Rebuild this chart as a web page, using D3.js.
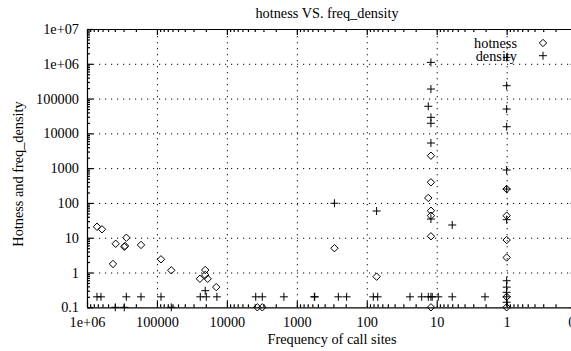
<!DOCTYPE html>
<html>
<head>
<meta charset="utf-8">
<script src="https://cdn.jsdelivr.net/npm/d3@7"></script>
<style>
  body { margin: 0; background: #fff; }
  svg { display: block; font-family: "Liberation Serif", "Times New Roman", serif; font-size: 14.3px; }
  .axis path, .axis line { stroke: #000; }
  .axis text { fill: #000; }
  .grid line { stroke: #000; stroke-dasharray: 1.2, 4.8; }
  .grid path { display: none; }
</style>
</head>
<body>
<script>
const title = 'hotness VS. freq_density'
const xTitle = 'Frequency of call sites'
const yTitle = 'Hotness and freq_density'

const xTicks = [1e6, 1e5, 1e4, 1e3, 100, 10, 1, 0.1]
const xTickLabels = ['1e+06', '100000', '10000', '1000', '100', '10', '1', '0.1']
const yTicks = [0.1, 1, 10, 100, 1000, 1e4, 1e5, 1e6, 1e7]
const yTickLabels = ['0.1', '1', '10', '100', '1000', '10000', '100000', '1e+06', '1e+07']

// [frequency, hotness]
const hotness = [
  [720000, 20.7], [611000, 17.5], [389000, 6.7], [274000, 10.0], [293000, 5.5],
  [286000, 5.8], [425000, 1.76], [169000, 6.2], [87500, 2.4], [62400, 1.16],
  [20400, 1.18], [20400, 0.85], [24300, 0.66], [18800, 0.66], [14200, 0.38],
  [3670, 0.1], [3120, 0.1], [290, 5.0], [72.3, 0.76],
  [12.1, 2280], [12.1, 392], [13.2, 139], [12.1, 59.8], [12.1, 43], [12.1, 11], [12.1, 0.1],
  [1, 251], [1, 43], [1, 8.6], [1, 2.7], [1, 0.2], [1, 0.1]
]

// [frequency, freq_density]
const density = [
  [720000, 0.2], [631000, 0.2], [274000, 0.2], [169000, 0.2], [87500, 0.2],
  [24000, 0.2], [19700, 0.2], [13900, 0.2], [20400, 0.3],
  [394000, 0.1], [293000, 0.1], [62400, 0.1],
  [3870, 0.2], [3120, 0.2], [1530, 0.2], [562, 0.2], [555, 0.2], [255, 0.2], [194, 0.2],
  [80.7, 0.2], [69.8, 0.2], [290, 98], [72.3, 58.6],
  [12.1, 1.1e6], [12.1, 188000], [13.2, 60000], [12.1, 28900], [12.1, 19500], [12.1, 5280],
  [12.1, 34.5], [6.0, 23.2],
  [24.1, 0.2], [16.4, 0.2], [13.2, 0.2], [12.1, 0.2], [11.6, 0.2], [9.5, 0.2], [6.0, 0.2],
  [1, 1.53e6], [1, 234000], [1, 50000], [1, 15500], [1, 885], [1, 251], [1, 33],
  [1, 0.58], [1, 0.38], [1, 0.27], [1, 0.2], [1, 0.14], [2.04, 0.2]
]

const width = 571
const height = 351
const margin = { top: 29, left: 87 }
const plotRight = 576.6
const plotBottom = 307.3

const svg = d3.select('body').append('svg')
  .attr('width', width)
  .attr('height', height)

const x = d3.scaleLog().domain([1e6, 0.1]).range([margin.left, plotRight])
const y = d3.scaleLog().domain([0.1, 1e7]).range([plotBottom, margin.top])

const innerW = plotRight - margin.left
const innerH = plotBottom - margin.top

// minor tick values (2..9 per decade)
const minorX = []
for (let e = -1; e < 6; e++) for (let k = 2; k <= 9; k++) minorX.push(k * Math.pow(10, e))
const minorY = []
for (let e = -1; e < 7; e++) for (let k = 2; k <= 9; k++) minorY.push(k * Math.pow(10, e))

const plain = g => g.attr('font-size', null).attr('font-family', null)

// grid
svg.append('g').attr('class', 'grid')
  .attr('transform', `translate(0, ${plotBottom})`)
  .call(d3.axisBottom(x).tickValues(xTicks.slice(1, -1)).tickSize(-innerH).tickFormat(''))
svg.append('g').attr('class', 'grid')
  .attr('transform', `translate(${margin.left}, 0)`)
  .call(d3.axisLeft(y).tickValues(yTicks.slice(1, -1)).tickSize(-innerW).tickFormat(''))

// axes with inward ticks
const fmtX = d => xTickLabels[xTicks.indexOf(d)]
const fmtY = d => yTickLabels[yTicks.indexOf(d)]

svg.append('g').attr('class', 'axis')
  .attr('transform', `translate(0, ${plotBottom})`)
  .call(d3.axisBottom(x).tickValues(xTicks).tickSizeInner(-6).tickSizeOuter(0).tickPadding(10).tickFormat(fmtX))
  .call(plain)

svg.append('g').attr('class', 'axis')
  .attr('transform', `translate(0, ${plotBottom})`)
  .call(d3.axisBottom(x).tickValues(minorX).tickSizeInner(-3).tickSizeOuter(0).tickFormat(''))
  .select('.domain').remove()

svg.append('g').attr('class', 'axis')
  .attr('transform', `translate(${margin.left}, 0)`)
  .call(d3.axisLeft(y).tickValues(yTicks).tickSizeInner(-6).tickSizeOuter(0).tickPadding(8).tickFormat(fmtY))
  .call(plain)

svg.append('g').attr('class', 'axis')
  .attr('transform', `translate(${margin.left}, 0)`)
  .call(d3.axisLeft(y).tickValues(minorY).tickSizeInner(-3).tickSizeOuter(0).tickFormat(''))
  .select('.domain').remove()

// mirrored ticks on top and right
svg.append('g').attr('class', 'axis')
  .attr('transform', `translate(0, ${margin.top})`)
  .call(d3.axisTop(x).tickValues(xTicks).tickSizeInner(-6).tickSizeOuter(0).tickFormat(''))
svg.append('g').attr('class', 'axis')
  .attr('transform', `translate(0, ${margin.top})`)
  .call(d3.axisTop(x).tickValues(minorX).tickSizeInner(-3).tickSizeOuter(0).tickFormat(''))
  .select('.domain').remove()
svg.append('g').attr('class', 'axis')
  .attr('transform', `translate(${plotRight}, 0)`)
  .call(d3.axisRight(y).tickValues(yTicks).tickSizeInner(-6).tickSizeOuter(0).tickFormat(''))

svg.selectAll('.axis path, .axis line').attr('stroke-width', 1.2)

// points
const diamond = (cx, cy, r) => `M${cx},${cy - r}L${cx + r},${cy}L${cx},${cy + r}L${cx - r},${cy}Z`
const plus = (cx, cy, r) => `M${cx - r},${cy}H${cx + r}M${cx},${cy - r}V${cy + r}`

svg.append('g').selectAll('path')
  .data(hotness)
  .enter()
  .append('path')
  .attr('d', d => diamond(x(d[0]), y(d[1]), 3.7))
  .attr('fill', 'none')
  .attr('stroke', '#000')
  .attr('stroke-width', 1)

svg.append('g').selectAll('path')
  .data(density)
  .enter()
  .append('path')
  .attr('d', d => plus(x(d[0]), y(d[1]), 4))
  .attr('fill', 'none')
  .attr('stroke', '#000')
  .attr('stroke-width', 1)

// legend
const legend = svg.append('g')
legend.append('text').attr('x', 517).attr('y', 48).attr('text-anchor', 'end').text('hotness')
legend.append('path').attr('d', diamond(543, 43, 3.7)).attr('fill', 'none').attr('stroke', '#000')
legend.append('text').attr('x', 517).attr('y', 61).attr('text-anchor', 'end').text('density')
legend.append('path').attr('d', plus(543, 55.7, 4)).attr('fill', 'none').attr('stroke', '#000')

// titles
svg.append('text').attr('x', 327).attr('y', 18).attr('text-anchor', 'middle').text(title)
svg.append('text').attr('x', 332).attr('y', 344).attr('text-anchor', 'middle').text(xTitle)
svg.append('text')
  .attr('transform', 'translate(23, 174) rotate(-90)')
  .attr('text-anchor', 'middle')
  .text(yTitle)
</script>
</body>
</html>
